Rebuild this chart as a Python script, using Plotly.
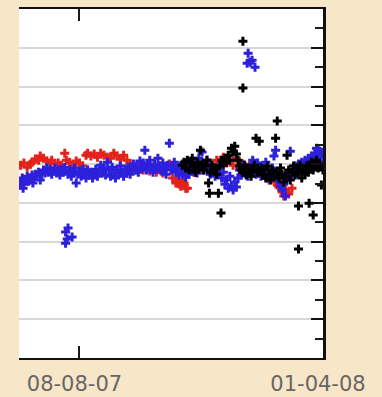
import plotly.graph_objects as go

# x = days since 2007-07-02, y = measured value
red_day = [1, 3, 5, 7, 8, 10, 12, 13, 15, 17, 19, 20, 22, 24, 26, 28, 29, 31, 33, 35,
           37, 39, 41, 42, 44, 46, 48, 50, 52, 54, 56, 58, 60, 62, 64, 66, 68, 70, 72, 74,
           76, 78, 80, 82, 84, 86, 88, 90, 92, 94, 96, 97, 98, 99, 100, 101, 102, 103, 105, 107,
           109, 111, 113, 115, 117, 119, 121, 123, 125, 127, 129, 131, 133, 135, 137, 139, 141, 143, 145, 147,
           149, 151, 153, 155, 157, 158, 159, 161, 162, 163, 164, 165, 167]
red_val = [4.97, 5.03, 4.92, 5.00, 5.05, 5.13, 5.10, 5.21, 5.15, 5.08, 5.03, 5.10, 5.00, 5.03, 4.97, 5.28, 5.10, 5.05, 4.97, 5.08,
           5.03, 4.95, 5.23, 5.28, 5.21, 5.26, 5.18, 5.28, 5.23, 5.18, 5.15, 5.28, 5.21, 5.13, 5.23, 5.10, 5.00, 4.90, 4.85, 4.95,
           4.85, 4.92, 4.82, 4.90, 4.79, 4.87, 4.77, 4.92, 5.00, 4.64, 4.51, 4.59, 4.49, 4.43, 4.56, 4.51, 4.38, 4.38, 4.90, 4.79,
           4.95, 4.85, 4.97, 4.90, 5.03, 4.85, 5.10, 5.05, 5.18, 5.03, 5.10, 4.97, 5.15, 4.90, 5.00, 4.85, 4.95, 4.77, 4.90, 4.79,
           4.72, 4.85, 4.59, 4.64, 4.54, 4.46, 4.41, 4.28, 4.18, 4.33, 4.26, 4.23, 4.38]

blue_day = [0, 1, 2, 2.5, 3, 4, 5, 6, 7, 8, 8.5, 9, 10, 11, 12, 13, 14, 15, 16, 17,
            18, 19, 20, 21, 22, 23, 24, 25, 26, 27, 28, 28.5, 28.5, 29.5, 30, 30, 31, 32, 32.5, 33,
            34, 35, 36, 37, 38, 39, 40, 41, 42, 43, 44, 45, 46, 47, 48, 49, 50, 51, 52, 53,
            54, 55, 56, 57, 58, 59, 60, 61, 62, 63, 64, 65, 66, 67, 68, 69, 70, 71, 72, 73,
            74, 75, 76, 77, 78, 79, 80, 81, 82, 83, 84, 85, 86, 87, 88, 89, 90, 91, 92, 93,
            94, 95, 96, 97, 98, 99, 100, 101, 102, 103, 104, 105, 106, 107, 108, 109, 110, 111, 112, 113,
            114, 115, 116, 117, 118, 119, 120, 121, 122, 123, 124, 125, 126, 127, 128, 129, 130, 131, 132, 133,
            134, 135, 136, 137, 138, 139, 139.6, 140, 140.2, 141, 141.4, 142, 142.6, 143, 144, 144.4, 145, 146, 147, 148,
            149, 150, 151, 152, 153, 154, 155, 156, 157, 158, 159, 160, 161, 162, 163, 164, 165, 166, 167, 168,
            169, 170, 171, 172, 173, 174, 175, 176, 177, 178, 179, 180, 181, 182, 182, 183, 184, 184, 185, 186, 186]
blue_val = [4.46, 4.54, 4.64, 4.38, 4.48, 4.59, 4.69, 4.56, 4.64, 4.72, 4.51, 4.61, 4.74, 4.69, 4.79, 4.59, 4.74, 4.85, 4.77, 4.90,
            4.79, 4.87, 4.74, 4.82, 4.90, 4.77, 4.85, 4.72, 4.87, 4.79, 4.92, 3.25, 2.96, 3.07, 3.35, 4.74, 4.85, 4.69, 3.12, 4.79,
            4.90, 4.51, 4.74, 4.82, 4.69, 4.87, 4.77, 4.64, 4.85, 4.72, 4.79, 4.64, 4.74, 4.87, 4.69, 4.82, 4.97, 4.77, 4.90, 4.72,
            5.05, 4.85, 4.69, 4.92, 4.77, 4.64, 4.85, 4.74, 4.95, 4.79, 4.69, 4.87, 4.77, 4.92, 4.74, 4.85, 5.00, 4.85, 4.95, 4.79,
            5.08, 4.90, 5.03, 5.36, 4.85, 4.97, 5.10, 4.92, 4.79, 5.00, 4.87, 5.15, 4.95, 4.82, 5.03, 4.90, 4.74, 4.97, 5.54, 4.85,
            4.95, 5.05, 4.79, 4.90, 4.72, 4.85, 5.00, 4.79, 4.66, 4.87, 4.74, 4.95, 4.82, 5.05, 4.92, 4.77, 5.15, 4.97, 5.31, 4.85,
            5.00, 5.10, 4.90, 4.74, 4.95, 4.79, 4.69, 4.87, 4.77, 4.97, 4.64, 4.79, 4.48, 4.59, 4.38, 4.69, 4.43, 4.33, 4.54, 4.41,
            4.64, 4.85, 4.72, 4.97, 4.79, 4.90, 7.60, 4.69, 7.86, 4.85, 7.63, 4.97, 7.68, 5.10, 4.90, 7.50, 4.74, 5.03, 4.85, 4.69,
            4.90, 4.77, 5.05, 4.64, 4.79, 4.69, 4.90, 5.21, 5.36, 4.59, 4.72, 4.43, 4.33, 4.48, 4.18, 4.64, 4.79, 5.33, 4.69, 4.85,
            4.95, 4.77, 5.00, 4.90, 5.05, 4.85, 5.10, 4.97, 5.15, 5.03, 5.21, 5.10, 5.28, 5.15, 5.41, 5.36, 5.23, 5.05, 5.31, 5.18, 4.97]

black_day = [100, 101, 102, 103, 104, 105, 106, 107, 108, 109, 110, 111, 112, 113, 114, 115, 116, 116.5, 117, 118,
             119, 120, 121, 122, 123, 123.6, 124, 125, 126, 127, 128, 129, 130, 131, 132, 133, 134, 135, 136, 137,
             137, 137, 138, 139, 140, 141, 142, 143, 144, 145, 146, 147, 148, 149, 150, 151, 152, 153, 154, 155,
             156, 157, 158, 158, 159, 160, 161, 162, 163, 164, 165, 166, 167, 168, 169, 170, 171, 171, 171, 172,
             173, 174, 175, 176, 177, 177.5, 178, 179, 180, 180, 181, 182, 183, 184, 185, 186]
black_val = [4.97, 5.05, 4.90, 5.10, 4.85, 5.03, 5.15, 4.95, 4.79, 5.05, 4.90, 5.36, 5.00, 4.85, 4.95, 5.10, 4.51, 4.25, 4.79, 4.97,
             4.85, 4.90, 4.74, 4.25, 4.95, 3.74, 5.10, 5.00, 5.15, 5.05, 5.23, 5.10, 5.41, 5.31, 5.46, 5.26, 5.10, 4.95, 4.85, 8.17,
             6.96, 4.79, 4.97, 4.72, 4.90, 4.79, 4.69, 4.85, 4.97, 5.67, 4.79, 5.59, 4.90, 4.72, 4.85, 4.64, 4.95, 4.74, 4.59, 4.85,
             4.69, 5.67, 6.11, 4.79, 4.64, 4.90, 4.74, 4.54, 4.69, 5.23, 4.85, 4.59, 4.79, 4.95, 4.72, 4.90, 3.92, 2.81, 4.79, 4.97,
             4.64, 4.85, 4.74, 4.95, 4.79, 3.99, 4.90, 5.05, 3.69, 4.85, 4.97, 5.10, 4.90, 5.00, 4.46, 4.85]

tick_days = [37, 186]
tick_labels = ["08-08-07", "01-04-08"]

BG = "#f8e6c8"

fig = go.Figure()
for days, vals, color in [(red_day, red_val, "#e3221b"),
                          (blue_day, blue_val, "#2c20dc"),
                          (black_day, black_val, "#000000")]:
    fig.add_trace(go.Scatter(x=days, y=vals, mode="markers",
                             marker=dict(symbol="cross", size=7.5, color=color),
                             showlegend=False, hoverinfo="skip"))

fig.update_layout(width=382, height=397, margin=dict(l=19, r=59, t=9, b=39),
                  paper_bgcolor=BG, plot_bgcolor="white")
fig.update_xaxes(range=[0, 186], tickvals=tick_days, ticktext=tick_labels,
                 ticks="inside", ticklen=12, tickwidth=2, tickcolor="#1a1a1a",
                 showline=True, linecolor="#111111", linewidth=2, mirror="ticks",
                 showgrid=False, zeroline=False, ticklabelshift=-5,
                 ticklabelstandoff=6, automargin=False,
                 tickfont=dict(family="DejaVu Sans", size=21, color="#666666"))
fig.update_yaxes(range=[0, 9], side="right", tick0=0, dtick=1,
                 ticks="inside", ticklen=12, tickwidth=2, tickcolor="#111",
                 showline=True, linecolor="#111111", linewidth=3,
                 showgrid=True, gridcolor="#d8d8d8", gridwidth=1.5,
                 showticklabels=False, zeroline=False, automargin=False,
                 minor=dict(dtick=0.5, ticks="inside", ticklen=8, tickwidth=2,
                            tickcolor="#1a1a1a", showgrid=False))

fig.write_html("out.html", config={"displayModeBar": False},
               post_script="document.body.style.margin='0';"
                           "document.body.style.background='" + BG + "';"
                           "document.body.style.overflow='hidden';")
